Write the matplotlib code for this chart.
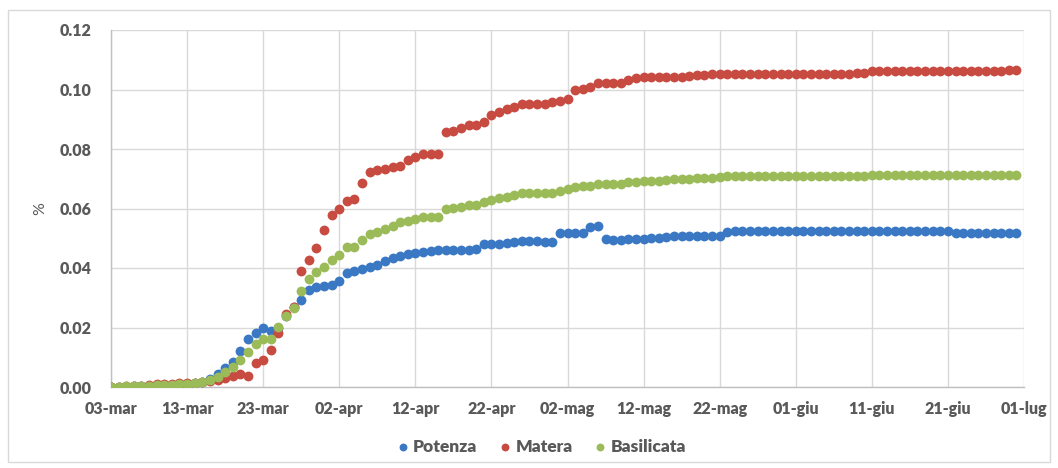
import matplotlib
matplotlib.use("Agg")
import matplotlib.pyplot as plt
from matplotlib.patches import Rectangle
from matplotlib.ticker import FormatStrFormatter
import pandas as pd

# ---------------- data ----------------
start_date = "2020-03-03"
n_days = 120

potenza = ([0, 0.0001, 0.0001, 0.0002, 0.0003, 0.0004, 0.0004, 0.0005, 0.0006, 0.0008,
            0.001, 0.0013, 0.0017, 0.0028,
            0.0044, 0.0064, 0.0084, 0.012, 0.016, 0.018, 0.0198, 0.0187, 0.0198, 0.024,
            0.027, 0.0292, 0.0325, 0.0335, 0.034, 0.0343, 0.0357, 0.0382, 0.0389, 0.0398,
            0.0403, 0.0409, 0.0422, 0.0434, 0.0442, 0.0446, 0.0451, 0.0453, 0.0457, 0.0459,
            0.0461, 0.0461, 0.0461, 0.0462, 0.0464, 0.0479, 0.0479, 0.0481, 0.0484, 0.0488,
            0.049, 0.049, 0.049, 0.0488, 0.0488, 0.0517, 0.0516, 0.0516, 0.0516, 0.0538,
            0.0541, 0.0496, 0.0493, 0.0493, 0.0496, 0.0496, 0.0496, 0.0501, 0.0501, 0.0503,
            0.0506, 0.0506, 0.0506, 0.0508, 0.0508, 0.0508, 0.0509, 0.052]
           + [0.0523] * 29 + [0.0518] * 9)

matera = ([0, 0.0001, 0.0002, 0.0004, 0.0005, 0.0007, 0.0009, 0.001, 0.0011, 0.0012,
           0.0013, 0.0014, 0.0016, 0.002,
           0.0025, 0.003, 0.0036, 0.0044, 0.0038, 0.008, 0.0092, 0.0126, 0.0183, 0.0245,
           0.027, 0.0389, 0.0428, 0.0467, 0.0528, 0.0578, 0.0598, 0.0626, 0.0633, 0.0687,
           0.0722, 0.0729, 0.0734, 0.0739, 0.0744, 0.0764, 0.0773, 0.0784, 0.0784, 0.0784,
           0.0856, 0.0861, 0.0872, 0.0881, 0.0879, 0.0892, 0.0914, 0.0923, 0.0934, 0.0942,
           0.0951, 0.0951, 0.0951, 0.0951, 0.0957, 0.0962, 0.0969, 0.0999, 0.1001, 0.101,
           0.1021, 0.1021, 0.1021, 0.1021, 0.1033, 0.1038, 0.1043, 0.1043, 0.1043, 0.1043,
           0.1043, 0.1043, 0.1046, 0.1048, 0.1048, 0.1051]
          + [0.1052] * 18 + [0.1057] * 2 + [0.1063] * 18 + [0.1067] * 2)

basilicata = ([0, 0.0001, 0.0002, 0.0003, 0.0004, 0.0005, 0.0006, 0.0007, 0.0008, 0.0009,
               0.0011, 0.0013, 0.0016, 0.0022,
               0.0035, 0.0049, 0.0066, 0.0092, 0.0116, 0.0145, 0.016, 0.0162, 0.0201, 0.024,
               0.0267, 0.0324, 0.0364, 0.0385, 0.0403, 0.0426, 0.0444, 0.0469, 0.0472, 0.0494,
               0.0514, 0.0522, 0.0531, 0.0542, 0.0553, 0.0559, 0.0564, 0.057, 0.057, 0.057,
               0.0598, 0.0601, 0.0606, 0.0611, 0.0611, 0.0622, 0.0629, 0.0634, 0.064, 0.0645,
               0.0651, 0.0651, 0.0651, 0.0651, 0.0653, 0.0658, 0.0665, 0.0671, 0.0674, 0.0677,
               0.0683, 0.0683, 0.0683, 0.0683, 0.0688, 0.0688, 0.0691, 0.0694, 0.0694, 0.0697,
               0.0699, 0.07, 0.07, 0.0702, 0.0702, 0.0703, 0.0707]
              + [0.0709] * 19 + [0.0712] * 19 + [0.0714])

series_names = ["Potenza", "Matera", "Basilicata"]
series_colors = ["#3A78C3", "#C84B41", "#9BBB59"]

x_tick_labels = ["03-mar", "13-mar", "23-mar", "02-apr", "12-apr", "22-apr", "02-mag",
                 "12-mag", "22-mag", "01-giu", "11-giu", "21-giu", "01-lug"]
y_ticks = [0.00, 0.02, 0.04, 0.06, 0.08, 0.10, 0.12]

# ---------------- plot ----------------
plt.rcParams['font.family'] = ['Lato', 'DejaVu Sans']
text_color = "#595959"

dates = pd.date_range(start_date, periods=n_days, freq="D")
tick_dates = pd.date_range(start_date, periods=len(x_tick_labels), freq="10D")

fig = plt.figure(figsize=(10.58, 4.68), dpi=100)
ax = fig.add_axes([111 / 1058, 1 - 387 / 468, (1024 - 111) / 1058, (387 - 30) / 468])

for vals, name, col in zip([potenza, matera, basilicata], series_names, series_colors):
    ax.scatter(dates, vals, s=50, color=col, label=name, zorder=3, linewidths=0)

ax.set_xlim(tick_dates[0], tick_dates[-1])
ax.set_ylim(0, 0.12)
ax.set_xticks(tick_dates)
ax.set_xticklabels(x_tick_labels)
ax.set_yticks(y_ticks)
ax.yaxis.set_major_formatter(FormatStrFormatter("%.2f"))

ax.grid(True, color="#D9D9D9", linewidth=1.0, zorder=0)
ax.set_axisbelow(True)
for side in ["top", "right"]:
    ax.spines[side].set_visible(False)
for side in ["left", "bottom"]:
    ax.spines[side].set_color("#BFBFBF")
    ax.spines[side].set_linewidth(1.0)

ax.tick_params(axis="both", length=0, colors=text_color, labelsize=11.5)
ax.tick_params(axis="x", pad=10)
ax.tick_params(axis="y", pad=14)
for lbl in ax.get_xticklabels() + ax.get_yticklabels():
    lbl.set_fontweight("heavy")

ax.set_ylabel("%", color=text_color, fontsize=11.5, labelpad=9)

leg = fig.legend(loc="center", bbox_to_anchor=(540 / 1058, 1 - 447 / 468), ncol=3,
                 frameon=False, fontsize=12.5, markerscale=0.8, handletextpad=0.1,
                 columnspacing=1.1, handlelength=1.0)
for t in leg.get_texts():
    t.set_color(text_color)
    t.set_fontweight("heavy")

fig.patches.append(Rectangle((8 / 1058, 6 / 468), 1042 / 1058, 452 / 468,
                             transform=fig.transFigure, fill=False,
                             edgecolor="#D9D9D9", linewidth=1.0))

fig.savefig("out.png", dpi=100)
